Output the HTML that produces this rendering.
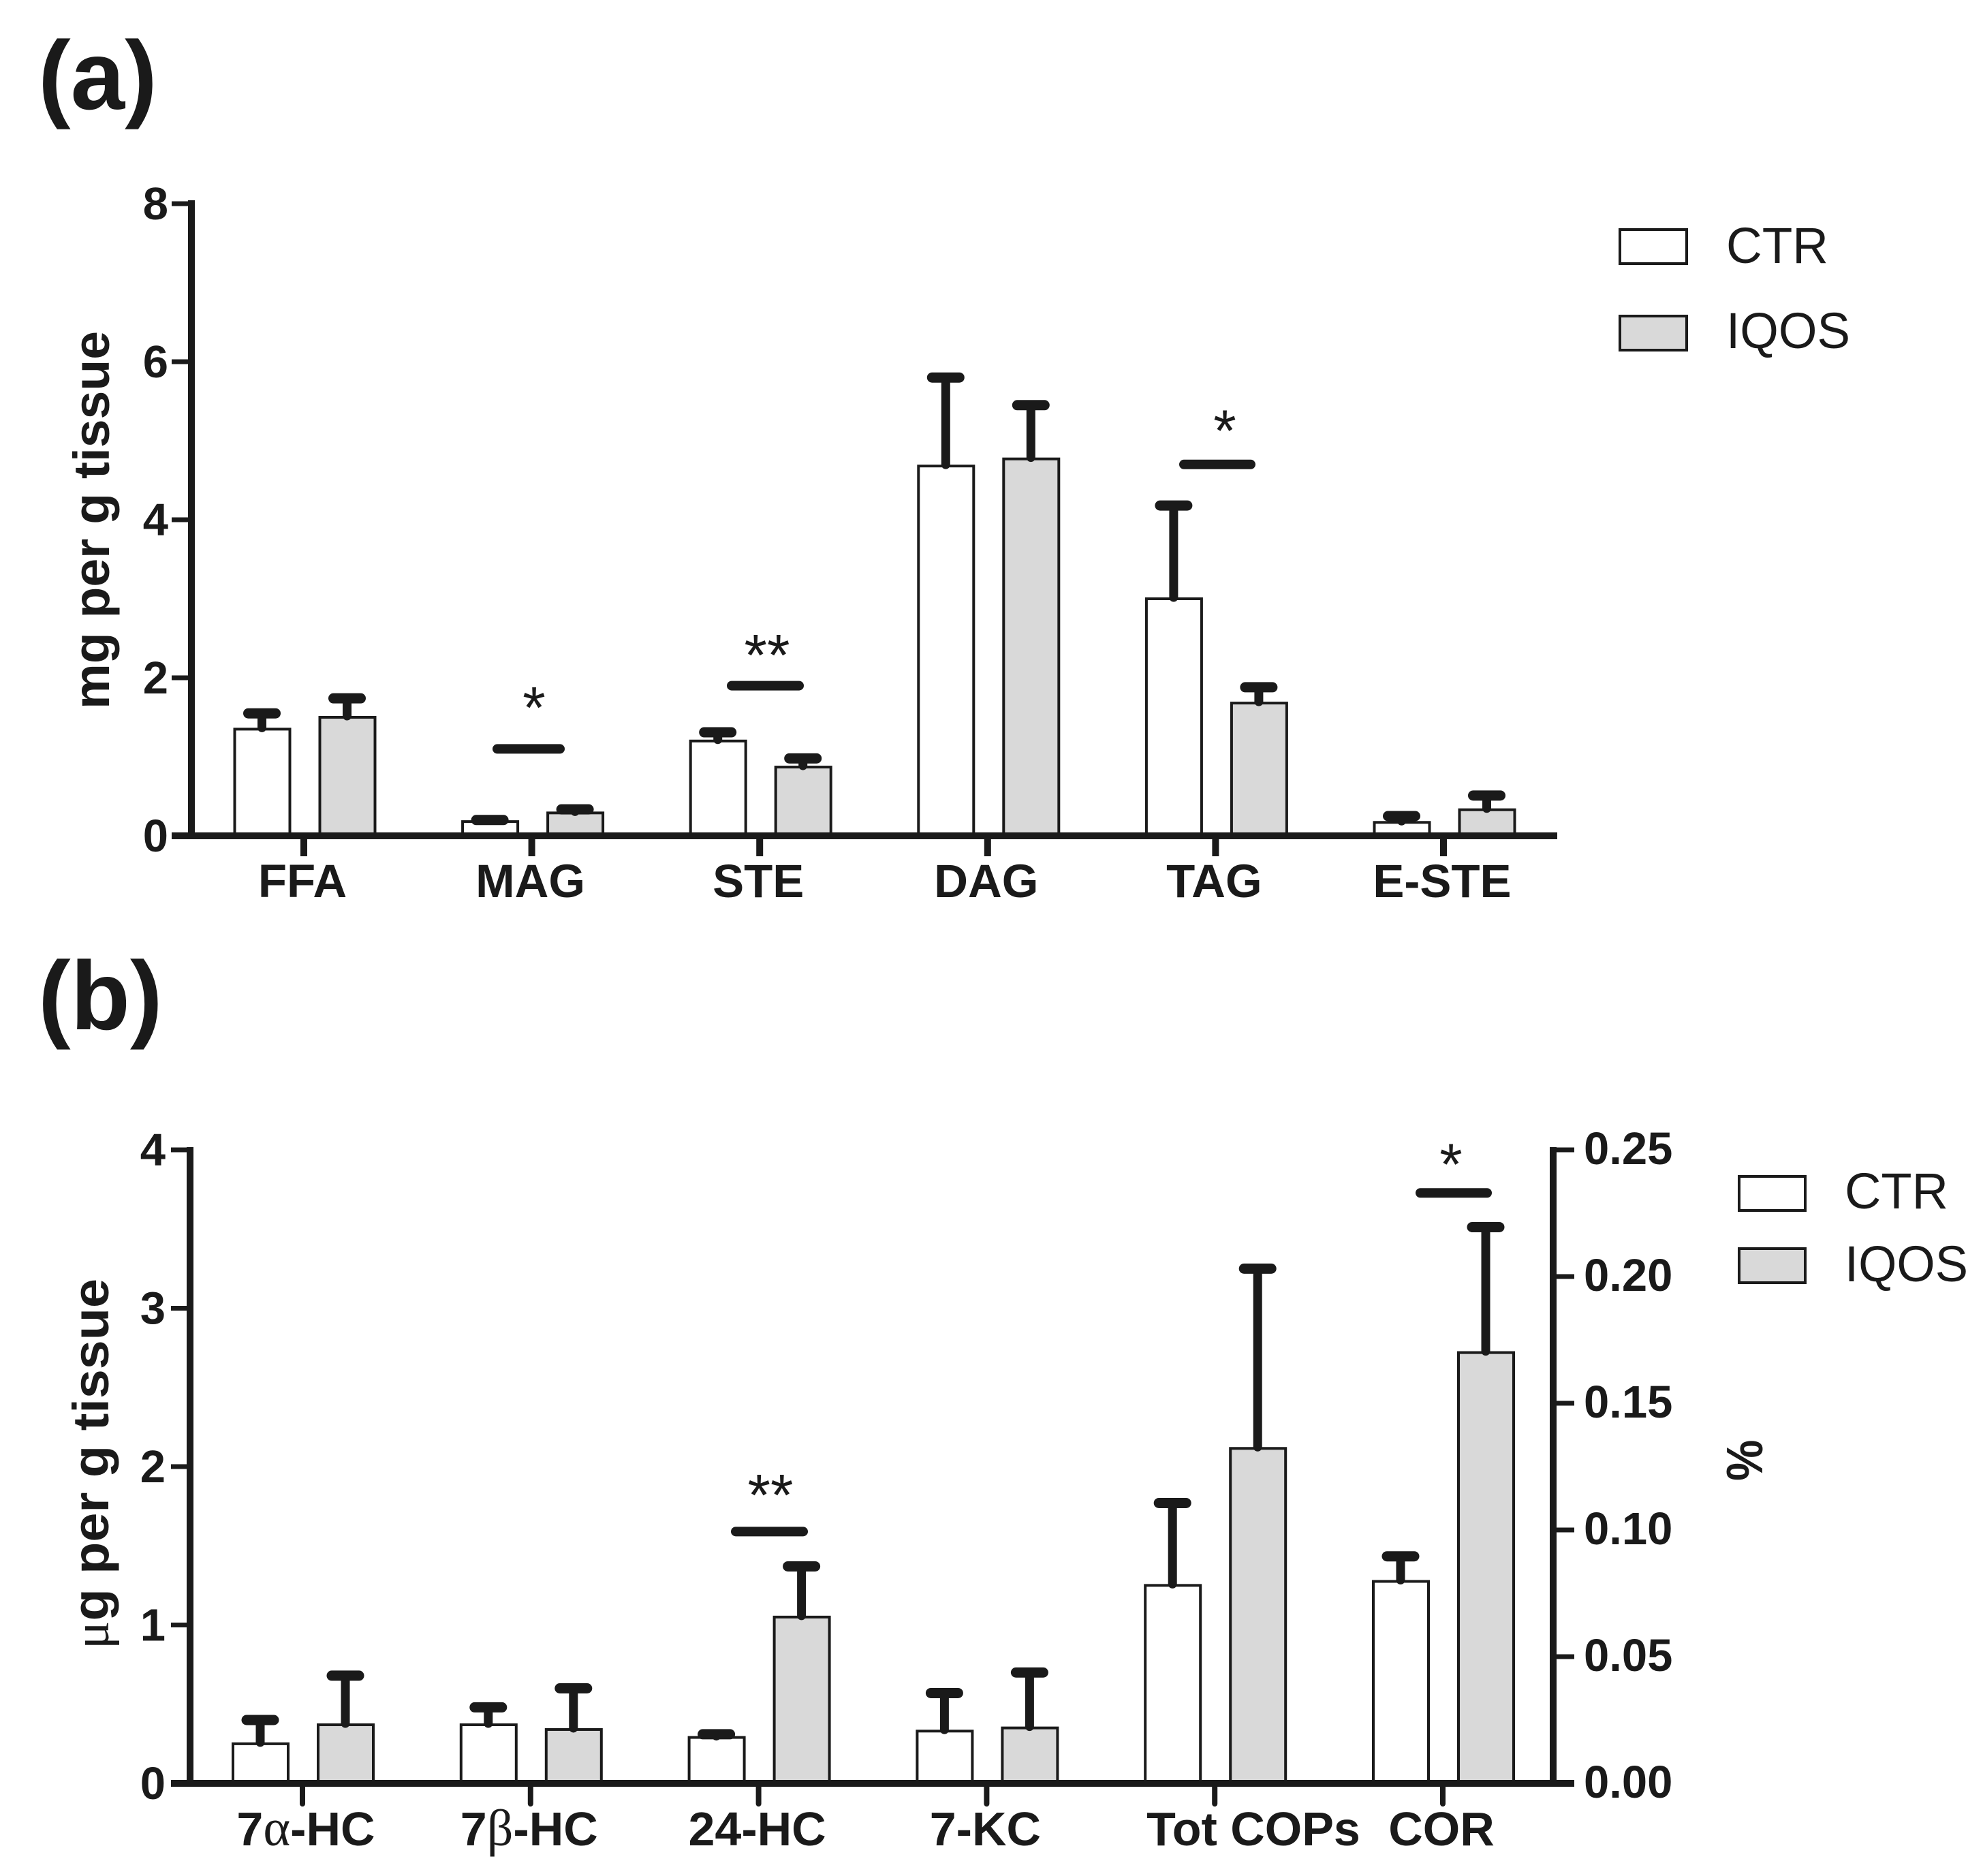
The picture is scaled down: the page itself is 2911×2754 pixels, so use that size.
<!DOCTYPE html>
<html lang="en">
<head>
<meta charset="utf-8">
<title>Lipid and oxysterol levels, CTR vs IQOS</title>
<style>
html,body{margin:0;padding:0;background:#fff;}
svg{display:block;}
text{font-family:"Liberation Sans",sans-serif;fill:#1a1a1a;}
.b{font-weight:bold;}
</style>
</head>
<body>
<svg id="fig" xmlns="http://www.w3.org/2000/svg" width="2911" height="2754" viewBox="0 0 2911 2754">
<rect x="0" y="0" width="2911" height="2754" fill="#fff"/>
<text class="b" x="56" y="160" font-size="143">(a)</text>
<text class="b" x="56" y="1511" font-size="143">(b)</text>
<text class="b" transform="translate(160,1041) rotate(-90)" font-size="74" textLength="555" lengthAdjust="spacingAndGlyphs">mg per g tissue</text>
<text class="b" transform="translate(159,2421) rotate(-90)" font-size="74" textLength="544" lengthAdjust="spacingAndGlyphs"><tspan font-family="Liberation Serif" font-weight="normal">μ</tspan>g per g tissue</text>
<text class="b" transform="translate(2587,2174) rotate(-90) scale(1,1.1)" font-size="68">%</text>
<g>
<rect x="2378" y="337" width="98" height="50" fill="#fff" stroke="#1a1a1a" stroke-width="4"/>
<text x="2534" y="386" font-size="74" textLength="150" lengthAdjust="spacingAndGlyphs">CTR</text>
<rect x="2378" y="464" width="98" height="50" fill="#d9d9d9" stroke="#1a1a1a" stroke-width="4"/>
<text x="2534" y="511" font-size="74" textLength="182" lengthAdjust="spacingAndGlyphs">IQOS</text>
</g>
<g>
<rect x="2553" y="1727" width="97" height="50" fill="#fff" stroke="#1a1a1a" stroke-width="4"/>
<text x="2708" y="1774" font-size="74" textLength="152" lengthAdjust="spacingAndGlyphs">CTR</text>
<rect x="2553" y="1833" width="97" height="50" fill="#d9d9d9" stroke="#1a1a1a" stroke-width="4"/>
<text x="2708" y="1881" font-size="74" textLength="181" lengthAdjust="spacingAndGlyphs">IQOS</text>
</g>
<g id="chart-a"></g>
<g id="chart-b"></g>
</svg>
<script>
// Panel (a)
const categoriesA = ['FFA','MAG','STE','DAG','TAG','E-STE'];
const ctrA = [1.35,0.18,1.20,4.68,3.00,0.17];
const ctrErrA = [0.20,0.02,0.11,1.12,1.18,0.08];
const iqosA = [1.50,0.29,0.87,4.77,1.68,0.33];
const iqosErrA = [0.24,0.045,0.11,0.68,0.20,0.18];
const yTicksA = [0,2,4,6,8];
const sigLevelsA = [1.10,1.90,4.70];
const sigMarksA = ['*','**','*'];
// Panel (b): the first five groups read on the left axis, COR on the right axis
const categoriesB = ['7α-HC','7β-HC','24-HC','7-KC','Tot COPs','COR'];
const ctrB = [0.25,0.37,0.29,0.33,1.25,0.0797];
const ctrErrB = [0.15,0.11,0.02,0.24,0.52,0.0099];
const iqosB = [0.37,0.34,1.05,0.35,2.115,0.170];
const iqosErrB = [0.31,0.26,0.32,0.35,1.135,0.0495];
const yTicksB = [0,1,2,3,4];
const yTicksRight = ['0.00','0.05','0.10','0.15','0.20','0.25'];
const rightAxisGroups = ['COR'];
const sigLevelsB = [1.59,0.233];
const sigMarksB = ['**','*'];

const NS = 'http://www.w3.org/2000/svg';
const INK = '#1a1a1a';
function el(parent, tag, attrs, txt){
  const e = document.createElementNS(NS, tag);
  for (const k in attrs) e.setAttribute(k, attrs[k]);
  if (txt !== undefined) e.textContent = txt;
  parent.appendChild(e);
  return e;
}
function yScale(max, y0, yTop){ return v => y0 - (v / max) * (y0 - yTop); }
function xScale(first, step){ return i => first + i * step; }

function drawBar(g, cx, value, err, fill, y, y0, series){
  const top = y(value);
  const r = el(g, 'rect', {x: cx - 40, y: top, width: 81, height: y0 - top, fill: fill, stroke: INK, 'stroke-width': 4});
  
  
  const errTop = y(value + err);
  const stem = el(g, 'line', {x1: cx, x2: cx, y1: top - 2, y2: errTop, stroke: INK, 'stroke-width': 13, 'stroke-linecap': 'round'});
  
  
  const cap = el(g, 'line', {x1: cx - 20, x2: cx + 20, y1: errTop, y2: errTop, stroke: INK, 'stroke-width': 15, 'stroke-linecap': 'round'});
  
  
}
function drawSig(g, y, level, mark, x1, x2, starX, starDy){
  const yy = y(level);
  const bar = el(g, 'line', {x1: x1, x2: x2, y1: yy, y2: yy, stroke: INK, 'stroke-width': 14, 'stroke-linecap': 'round'});
  
  
  const t = el(g, 'text', {x: starX, y: yy + starDy, 'text-anchor': 'middle', 'font-size': 86}, mark);
  
  
}

// ---- Panel a ----
(function(){
  const g = document.getElementById('chart-a');
  const y0 = 1227;
  const y = yScale(8, y0, 299);
  const x = xScale(446, 334.6);
  categoriesA.forEach((c, i) => {
    drawBar(g, x(i) - 61.5, ctrA[i], ctrErrA[i], '#fff', y, y0, c.toLowerCase() + '-ctr');
    drawBar(g, x(i) + 63.5, iqosA[i], iqosErrA[i], '#d9d9d9', y, y0, c.toLowerCase() + '-iqos');
  });
  const ya = el(g, 'line', {x1: 281, x2: 281, y1: 294, y2: y0 + 5, stroke: INK, 'stroke-width': 10});
  
  
  const xa = el(g, 'line', {x1: 252, x2: 2286, y1: y0, y2: y0, stroke: INK, 'stroke-width': 10});
  
  
  yTicksA.forEach(v => {
    const tk = el(g, 'line', {x1: 252, x2: 281, y1: y(v), y2: y(v), stroke: INK, 'stroke-width': 7});
    
    
    const tl = el(g, 'text', {x: 247, y: y(v) + 23, 'text-anchor': 'end', 'font-size': 67, 'class': 'b'}, String(v));
    
    
  });
  categoriesA.forEach((c, i) => {
    const tk = el(g, 'line', {x1: x(i), x2: x(i), y1: y0, y2: 1257, stroke: INK, 'stroke-width': 10});
    
    
    const tl = el(g, 'text', {x: x(i) - 2, y: 1317, 'text-anchor': 'middle', 'font-size': 69, 'class': 'b'}, c);
    
    
  });
  drawSig(g, y, sigLevelsA[0], sigMarksA[0], 730, 822, 784, -31);
  drawSig(g, y, sigLevelsA[1], sigMarksA[1], 1074, 1173, 1126, -15);
  drawSig(g, y, sigLevelsA[2], sigMarksA[2], 1738, 1836, 1798, -20);
})();

// ---- Panel b ----
(function(){
  const g = document.getElementById('chart-b');
  const y0 = 2618;
  const yLeft = yScale(4, y0, 1688);
  const yRight = yScale(0.25, y0, 1688);
  const x = xScale(444, 334.8);
  categoriesB.forEach((c, i) => {
    const y = rightAxisGroups.includes(c) ? yRight : yLeft;
    const k = c.toLowerCase().replace(/\s+/g, '-');
    drawBar(g, x(i) - 62, ctrB[i], ctrErrB[i], '#fff', y, y0, k + '-ctr');
    drawBar(g, x(i) + 63, iqosB[i], iqosErrB[i], '#d9d9d9', y, y0, k + '-iqos');
  });
  const ya = el(g, 'line', {x1: 279, x2: 279, y1: 1684, y2: y0 + 5, stroke: INK, 'stroke-width': 10});
  
  
  const yb = el(g, 'line', {x1: 2280, x2: 2280, y1: 1684, y2: y0 + 5, stroke: INK, 'stroke-width': 10});
  
  
  const xa = el(g, 'line', {x1: 251, x2: 2311, y1: y0, y2: y0, stroke: INK, 'stroke-width': 10});
  
  
  yTicksB.forEach(v => {
    const tk = el(g, 'line', {x1: 251, x2: 279, y1: yLeft(v), y2: yLeft(v), stroke: INK, 'stroke-width': 7});
    
    
    const tl = el(g, 'text', {x: 243, y: yLeft(v) + 23, 'text-anchor': 'end', 'font-size': 67, 'class': 'b'}, String(v));
    
    
  });
  yTicksRight.forEach(v => {
    const p = yRight(parseFloat(v));
    const tk = el(g, 'line', {x1: 2280, x2: 2311, y1: p, y2: p, stroke: INK, 'stroke-width': 7});
    
    
    const tl = el(g, 'text', {x: 2325, y: p + 21, 'font-size': 67, 'class': 'b'}, v);
    
    
  });
  categoriesB.forEach((c, i) => {
    const tk = el(g, 'line', {x1: x(i), x2: x(i), y1: y0, y2: 2648, stroke: INK, 'stroke-width': 8, 'stroke-linecap': 'round'});
    
    
    const isAlpha = c.includes('α');
    const labelX = c === 'Tot COPs' ? 1840 : x(i) + (isAlpha ? 5 : -2);
    const tl = el(g, 'text', {x: labelX, y: 2709, 'text-anchor': 'middle', 'font-size': 70, 'class': 'b', 'xml:space': 'preserve'});
    
    
    for (const part of c.split(/([αβ])/)) {
      if (!part) continue;
      const ts = el(tl, 'tspan', /[αβ]/.test(part) ? {'font-family': 'Liberation Serif', 'font-weight': 'normal', 'font-size': 76} : {}, part);
      
      
    }
  });
  drawSig(g, yLeft, sigLevelsB[0], sigMarksB[0], 1080, 1179, 1131, -24);
  drawSig(g, yRight, sigLevelsB[1], sigMarksB[1], 2085, 2183, 2130, -12);
})();
</script>
</body>
</html>
